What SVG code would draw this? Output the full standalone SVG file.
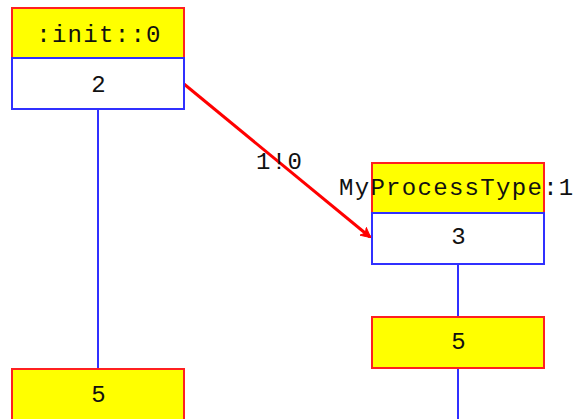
<svg xmlns="http://www.w3.org/2000/svg" width="575" height="419" viewBox="0 0 575 419">
  <style>
    .head { fill: #ffff00; stroke: #ff2020; stroke-width: 2; }
    .body { fill: #ffffff; stroke: #3030ff; stroke-width: 2; }
    .life { stroke: #3030ff; stroke-width: 2; fill: none; }
    .msg { stroke: #ff0000; stroke-width: 3; fill: none; }
    text { font-family: "Liberation Mono", "DejaVu Sans Mono", monospace; font-size: 24px; letter-spacing: 1.3px; fill: #111111; }
    .c { text-anchor: middle; }
  </style>
  <defs>
    <marker id="arrow" markerWidth="12" markerHeight="12" refX="9" refY="6" orient="auto" markerUnits="userSpaceOnUse">
      <path d="M0,1 L10,6 L0,11 L3,6 Z" fill="#ff0000" stroke="#ff0000" stroke-width="1"/>
    </marker>
  </defs>

  <!-- lifelines and message -->
  <g id="connectors">
    <line class="life" x1="98" y1="109" x2="98" y2="369"/>
    <line class="life" x1="458" y1="264" x2="458" y2="317"/>
    <line class="life" x1="458" y1="368" x2="458" y2="419"/>
    <line class="msg" x1="184" y1="84" x2="370" y2="237" marker-end="url(#arrow)"/>
    <text x="256" y="169">1!0</text>
  </g>

  <g id="init">
    <rect class="head" x="12" y="8" width="172" height="50"/>
    <text class="c" x="99" y="42">:init::0</text>
  </g>
  <g id="init-state">
    <rect class="body" x="12" y="58" width="172" height="51"/>
    <text class="c" x="99" y="92">2</text>
  </g>
  <g id="init-end">
    <rect class="head" x="12" y="369" width="172" height="60"/>
    <text class="c" x="99" y="402">5</text>
  </g>

  <g id="proc">
    <rect class="head" x="372" y="163" width="172" height="50"/>
    <text x="339" y="195">MyProcessType:1</text>
  </g>
  <g id="proc-state">
    <rect class="body" x="372" y="213" width="172" height="51"/>
    <text class="c" x="459" y="244">3</text>
  </g>
  <g id="proc-end">
    <rect class="head" x="372" y="317" width="172" height="51"/>
    <text class="c" x="459" y="349">5</text>
  </g>
</svg>
